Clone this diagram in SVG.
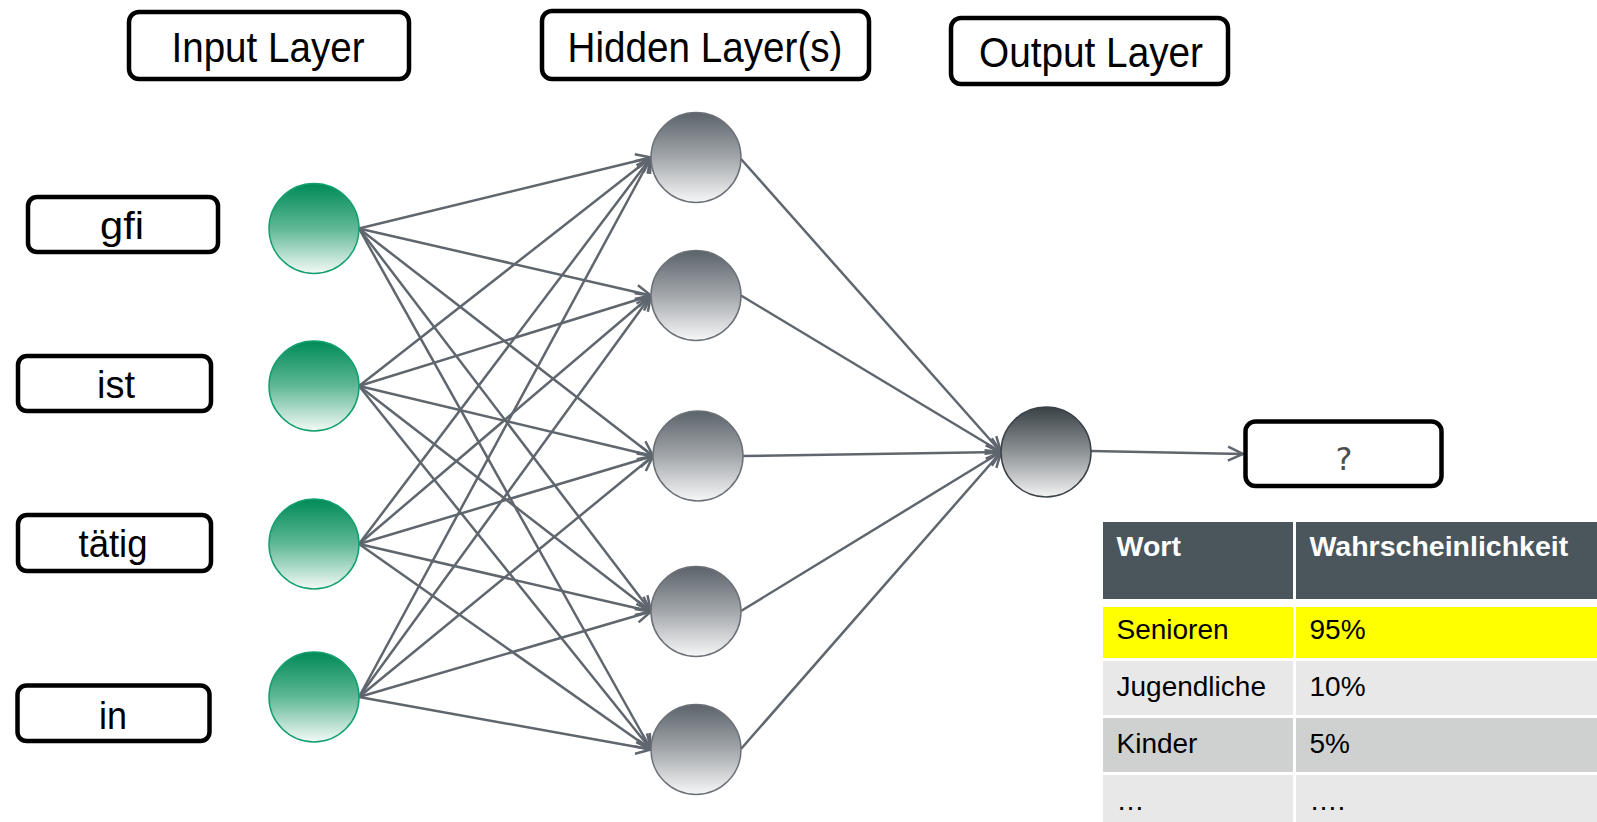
<svg xmlns="http://www.w3.org/2000/svg" width="1597" height="822" viewBox="0 0 1597 822">
<defs>
  <linearGradient id="gIn" x1="0" y1="0" x2="0" y2="1">
    <stop offset="0" stop-color="#008a58"/>
    <stop offset="0.5" stop-color="#5fb896"/>
    <stop offset="1" stop-color="#f4faf7"/>
  </linearGradient>
  <linearGradient id="gHid" x1="0" y1="0" x2="0" y2="1">
    <stop offset="0" stop-color="#5b636a"/>
    <stop offset="0.5" stop-color="#a3a7ab"/>
    <stop offset="1" stop-color="#f7f7f8"/>
  </linearGradient>
  <linearGradient id="gOut" x1="0" y1="0" x2="0" y2="1">
    <stop offset="0" stop-color="#394146"/>
    <stop offset="0.5" stop-color="#8e9396"/>
    <stop offset="1" stop-color="#f3f3f3"/>
  </linearGradient>
  <marker id="arr" markerUnits="userSpaceOnUse" markerWidth="30" markerHeight="30" viewBox="-20 -15 30 30" refX="0" refY="0" orient="auto">
    <path d="M-15,-7 L0,0 L-15,7" fill="none" stroke="#5f666d" stroke-width="2.5"/>
  </marker>
</defs>
<style>
  .box { fill: #ffffff; stroke: #000000; stroke-width: 4.5; }
  .hdr { font-family: "Liberation Sans", Arial, sans-serif; font-size: 42px; fill: #000000; text-anchor: middle; }
  .word { font-family: "Liberation Sans", Arial, sans-serif; font-size: 38px; fill: #000000; text-anchor: middle; }
  .nin { fill: url(#gIn); stroke: #13a06e; stroke-width: 1.5; }
  .nhid { fill: url(#gHid); stroke: #6b7177; stroke-width: 1.5; }
  .nout { fill: url(#gOut); stroke: #3b4247; stroke-width: 1.5; }
  .edge { fill: none; stroke: #5f666d; stroke-width: 2.5; marker-end: url(#arr); }
  .th { font-family: "Liberation Sans", Arial, sans-serif; font-size: 28.5px; font-weight: bold; fill: #ffffff; }
  .td { font-family: "Liberation Sans", Arial, sans-serif; font-size: 28px; fill: #000000; }
  .q { font-family: "DejaVu Sans", "Liberation Sans", sans-serif; font-size: 32px; fill: #4d4d4d; text-anchor: middle; }
</style>
<rect width="1597" height="822" fill="#ffffff"/>

<g id="label-input"><rect class="box" x="129" y="12" width="280" height="67" rx="10"/><text class="hdr" x="268" y="62" textLength="193" lengthAdjust="spacingAndGlyphs">Input Layer</text></g>
<g id="label-hidden"><rect class="box" x="542" y="11" width="327" height="68" rx="10"/><text class="hdr" x="705" y="62" textLength="275" lengthAdjust="spacingAndGlyphs">Hidden Layer(s)</text></g>
<g id="label-output"><rect class="box" x="951" y="18" width="277" height="66" rx="10"/><text class="hdr" x="1091" y="67" textLength="224" lengthAdjust="spacingAndGlyphs">Output Layer</text></g>

<g id="word-gfi"><rect class="box" x="28" y="197" width="190" height="55" rx="9"/><text class="word" x="122" y="239" textLength="44" lengthAdjust="spacingAndGlyphs">gfi</text></g>
<g id="word-ist"><rect class="box" x="18" y="356" width="193" height="55" rx="9"/><text class="word" x="116" y="398" textLength="38" lengthAdjust="spacingAndGlyphs">ist</text></g>
<g id="word-taetig"><rect class="box" x="18" y="515" width="193" height="56" rx="9"/><text class="word" x="113" y="557" textLength="69" lengthAdjust="spacingAndGlyphs">tätig</text></g>
<g id="word-in"><rect class="box" x="17.5" y="685.5" width="192" height="55.5" rx="9"/><text class="word" x="113" y="729" textLength="28" lengthAdjust="spacingAndGlyphs">in</text></g>

<g id="connectors">
  <line class="edge" x1="359" y1="228.5" x2="651" y2="157.5"/>
  <line class="edge" x1="359" y1="228.5" x2="651" y2="295.5"/>
  <line class="edge" x1="359" y1="228.5" x2="653" y2="456"/>
  <line class="edge" x1="359" y1="228.5" x2="651" y2="611.5"/>
  <line class="edge" x1="359" y1="228.5" x2="651" y2="749.5"/>
  <line class="edge" x1="359" y1="386" x2="651" y2="157.5"/>
  <line class="edge" x1="359" y1="386" x2="651" y2="295.5"/>
  <line class="edge" x1="359" y1="386" x2="653" y2="456"/>
  <line class="edge" x1="359" y1="386" x2="651" y2="611.5"/>
  <line class="edge" x1="359" y1="386" x2="651" y2="749.5"/>
  <line class="edge" x1="359" y1="544" x2="651" y2="157.5"/>
  <line class="edge" x1="359" y1="544" x2="651" y2="295.5"/>
  <line class="edge" x1="359" y1="544" x2="653" y2="456"/>
  <line class="edge" x1="359" y1="544" x2="651" y2="611.5"/>
  <line class="edge" x1="359" y1="544" x2="651" y2="749.5"/>
  <line class="edge" x1="359" y1="697" x2="651" y2="157.5"/>
  <line class="edge" x1="359" y1="697" x2="651" y2="295.5"/>
  <line class="edge" x1="359" y1="697" x2="653" y2="456"/>
  <line class="edge" x1="359" y1="697" x2="651" y2="611.5"/>
  <line class="edge" x1="359" y1="697" x2="651" y2="749.5"/>
  <line class="edge" x1="741" y1="159" x2="1001" y2="452"/>
  <line class="edge" x1="741" y1="295.5" x2="1001" y2="452"/>
  <line class="edge" x1="743" y1="456" x2="1001" y2="452"/>
  <line class="edge" x1="741" y1="611" x2="1001" y2="452"/>
  <line class="edge" x1="741" y1="749" x2="1001" y2="452"/>
  <line class="edge" x1="1091" y1="451" x2="1243" y2="454"/>
</g>

<g id="in1"><circle class="nin" cx="314" cy="228.5" r="45"/></g>
<g id="in2"><circle class="nin" cx="314" cy="386" r="45"/></g>
<g id="in3"><circle class="nin" cx="314" cy="544" r="45"/></g>
<g id="in4"><circle class="nin" cx="314" cy="697" r="45"/></g>

<g id="hid1"><circle class="nhid" cx="696" cy="157.5" r="45"/></g>
<g id="hid2"><circle class="nhid" cx="696" cy="295.5" r="45"/></g>
<g id="hid3"><circle class="nhid" cx="698" cy="456" r="45"/></g>
<g id="hid4"><circle class="nhid" cx="696" cy="611.5" r="45"/></g>
<g id="hid5"><circle class="nhid" cx="696" cy="749.5" r="45"/></g>

<g id="out"><circle class="nout" cx="1046" cy="452" r="45"/></g>

<g id="result"><rect class="box" x="1245.5" y="421.5" width="196" height="64.5" rx="10"/><text class="q" x="1344" y="470">?</text></g>

<g id="table">
  <rect x="1103" y="522" width="190" height="77" fill="#4b555c"/>
  <rect x="1296" y="522" width="301" height="77" fill="#4b555c"/>
  <rect x="1103" y="607" width="190" height="51" fill="#ffff00"/>
  <rect x="1296" y="607" width="301" height="51" fill="#ffff00"/>
  <rect x="1103" y="661" width="190" height="54" fill="#e8e8e8"/>
  <rect x="1296" y="661" width="301" height="54" fill="#e8e8e8"/>
  <rect x="1103" y="718" width="190" height="54" fill="#cfd1d0"/>
  <rect x="1296" y="718" width="301" height="54" fill="#cfd1d0"/>
  <rect x="1103" y="775" width="190" height="47" fill="#e8e8e8"/>
  <rect x="1296" y="775" width="301" height="47" fill="#e8e8e8"/>
  <text class="th" x="1116.5" y="556">Wort</text>
  <text class="th" x="1309.5" y="556">Wahrscheinlichkeit</text>
  <text class="td" x="1116.5" y="639">Senioren</text>
  <text class="td" x="1309.5" y="639">95%</text>
  <text class="td" x="1116.5" y="696">Jugendliche</text>
  <text class="td" x="1309.5" y="696">10%</text>
  <text class="td" x="1116.5" y="753">Kinder</text>
  <text class="td" x="1309.5" y="753">5%</text>
  <text class="td" x="1116.5" y="810">…</text>
  <text class="td" x="1309.5" y="810">….</text>
</g>
</svg>
